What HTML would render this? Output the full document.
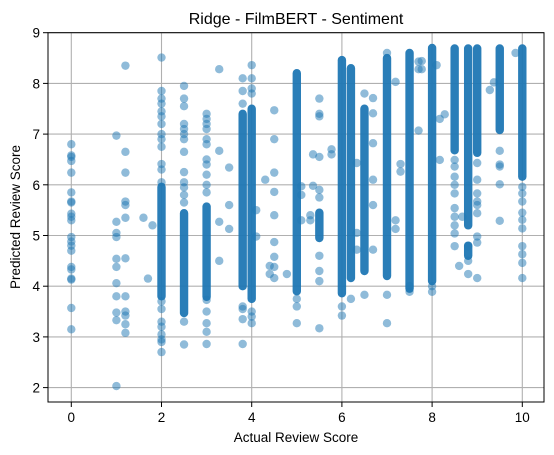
<!DOCTYPE html>
<html><head><meta charset="utf-8">
<style>
html,body{margin:0;padding:0;background:#fff;}
svg{display:block;font-family:"Liberation Sans","DejaVu Sans",sans-serif;}
</style></head>
<body>
<svg id="chart" width="554" height="455" viewBox="0 0 554 455" xmlns="http://www.w3.org/2000/svg">
<rect width="554" height="455" fill="#fff"/>
<text x="296" y="24" text-anchor="middle" font-size="16" fill="#000">Ridge - FilmBERT - Sentiment</text>
<g id="grid"></g>
<g id="marks"></g>
<rect x="48" y="32.7" width="496" height="369.3" fill="none" stroke="#000" stroke-width="1"/>
<g id="axes"></g>
<text x="296" y="442" text-anchor="middle" font-size="13.5" fill="#000">Actual Review Score</text>
<text transform="translate(20,217) rotate(-90)" text-anchor="middle" font-size="13.5" fill="#000">Predicted Review Score</text>
</svg>
<script>
const xTicks = [0, 2, 4, 6, 8, 10];
const yTicks = [2, 3, 4, 5, 6, 7, 8, 9];
// dense columns: actual score, predicted low, predicted high
const denseX  = [2, 2.5, 3, 3.8, 4, 5, 6, 6.2, 6.5, 7, 7.5, 8, 8.5, 8.8, 9, 9.5, 10, 5.5, 8.8];
const denseLo = [3.8, 3.47, 3.79, 4.0, 3.75, 3.9, 3.86, 4.16, 4.3, 4.2, 3.95, 4.1, 6.68, 5.2, 6.63, 7.08, 6.16, 4.95, 4.6];
const denseHi = [5.96, 5.44, 5.57, 7.4, 7.5, 8.2, 8.46, 8.3, 7.5, 8.5, 8.6, 8.7, 8.69, 8.69, 8.69, 8.69, 8.69, 5.45, 4.8];
// individual points
const ptX = [
 0,0,0,0,0,0,0,0,0,0,0,0,0,0,0,0,0,0,0,0,0,
 1,1,1,1,1,1,1,1,1,1,1,
 1.2,1.2,1.2,1.2,1.2,1.2,1.2,1.2,1.2,1.2,1.2,1.2,
 1.6,1.8,1.7,
 2,2,2,2,2,2,2,2,2,2,2,2,2,2,2,2,2,2,2,2,2,
 2.5,2.5,2.5,2.5,2.5,2.5,2.5,2.5,2.5,2.5,2.5,2.5,2.5,2.5,2.5,
 3,3,3,3,3,3,3,3,3,3,3,3,3,3,3,3,
 3.28,3.28,3.28,3.28,3.5,3.5,3.5,
 3.8,3.8,3.8,3.8,3.8,3.8,3.8,
 4,4,4,4,4,4,4,
 4.3,4.1,4.1,4.4,4.4,4.78,
 4.5,4.5,4.5,4.5,4.5,4.5,4.5,4.5,4.5,
 5,5,5,
 5.1,5.1,5.1,5.36,5.36,5.3,5.3,
 5.5,5.5,5.5,5.5,5.5,5.5,5.5,5.5,5.5,5.5,
 5.77,5.77,
 6,6,6.2,
 6.33,6.33,6.33,
 6.5,6.5,
 6.69,6.69,6.69,6.69,6.69,6.69,
 7,7,7,
 7.19,7.19,7.19,7.3,7.3,
 7.5,7.5,
 7.7,7.7,7.7,7.77,7.77,
 8,8,8.1,8.17,8.17,8.28,
 8.5,8.5,8.5,8.5,8.5,8.5,8.5,8.5,8.5,8.5,
 8.6,8.67,
 8.8,8.8,8.8,
 9,9,9,9,9,9,9,9,9,
 9.28,9.37,
 9.5,9.5,9.5,9.5,9.5,
 9.85,
 10,10,10,10,10,10,10,10,10,10
];
const ptY = [
 6.8,6.58,6.55,6.47,6.24,5.85,5.67,5.65,5.43,5.37,5.3,4.97,4.88,4.8,4.7,4.38,4.33,4.15,4.13,3.57,3.15,
 6.97,5.27,5.05,4.97,4.54,4.38,4.06,3.8,3.48,3.33,2.03,
 8.35,6.65,6.24,5.67,5.6,5.35,4.55,3.8,3.5,3.42,3.25,3.08,
 5.35,5.2,4.15,
 8.51,7.85,7.7,7.6,7.45,7.35,7.2,7.0,6.9,6.75,6.41,6.3,6.05,3.55,3.3,3.2,3.05,2.95,2.9,2.7,3.7,
 7.95,7.7,7.55,7.2,7.1,7.0,6.9,6.65,6.25,6.05,5.95,5.8,5.65,3.3,2.85,
 7.4,7.3,7.2,7.1,6.9,6.8,6.5,6.4,6.2,6.0,5.85,3.73,3.5,3.27,3.1,2.86,
 8.28,6.67,4.5,5.27,6.34,5.6,5.13,
 8.1,7.85,7.6,3.6,3.55,3.35,2.86,
 8.36,8.1,7.9,7.8,3.5,3.4,3.27,
 6.1,5.5,4.98,4.4,4.24,4.24,
 7.47,6.9,6.24,5.86,5.4,4.87,4.58,4.38,4.16,
 3.75,3.6,3.27,
 5.97,5.3,5.8,6.6,5.98,5.4,5.3,
 7.7,7.4,7.35,6.55,5.9,5.75,4.6,4.3,4.1,3.17,
 6.7,6.6,
 3.6,3.42,3.75,
 6.43,5.05,4.72,
 7.8,3.83,
 7.71,7.41,6.82,6.1,5.6,4.72,
 8.6,3.83,3.27,
 8.03,5.3,5.13,6.41,6.26,
 3.89,4.0,
 8.43,8.28,7.07,8.44,8.28,
 3.89,4.0,8.36,7.3,6.49,7.39,
 6.49,6.36,6.16,6.0,5.83,5.54,5.37,5.2,5.04,4.79,
 4.4,5.37,
 4.79,4.5,4.24,
 6.43,6.1,5.83,5.67,5.6,5.44,4.98,4.86,4.16,
 7.87,8.02,
 6.67,6.4,6.36,6.01,5.29,
 8.6,
 5.96,5.83,5.67,5.45,5.31,5.14,4.79,4.63,4.46,4.16
];

const X0 = 71.3, XS = 45.1, Y9 = 32.7, YS = 50.7;
function sx(v){ return X0 + v * XS; }
function sy(v){ return Y9 + (9 - v) * YS; }
const NS = 'http://www.w3.org/2000/svg';
const grid = document.getElementById('grid');
const axes = document.getElementById('axes');
const marks = document.getElementById('marks');

xTicks.forEach(t => {
  const l = document.createElementNS(NS, 'line');
  l.setAttribute('x1', sx(t)); l.setAttribute('x2', sx(t));
  l.setAttribute('y1', 32.7); l.setAttribute('y2', 402);
  l.setAttribute('stroke', '#b0b0b0'); l.setAttribute('stroke-width', '1.1');
  
  
  grid.appendChild(l);
  const tk = document.createElementNS(NS, 'line');
  tk.setAttribute('x1', sx(t)); tk.setAttribute('x2', sx(t));
  tk.setAttribute('y1', 402); tk.setAttribute('y2', 407);
  tk.setAttribute('stroke', '#000');
  
  
  axes.appendChild(tk);
  const tx = document.createElementNS(NS, 'text');
  tx.setAttribute('x', sx(t)); tx.setAttribute('y', 422);
  tx.setAttribute('text-anchor', 'middle'); tx.setAttribute('font-size', '13.5');
  tx.textContent = t;
  
  
  axes.appendChild(tx);
});
yTicks.forEach(t => {
  const l = document.createElementNS(NS, 'line');
  l.setAttribute('x1', 48); l.setAttribute('x2', 544);
  l.setAttribute('y1', sy(t)); l.setAttribute('y2', sy(t));
  l.setAttribute('stroke', '#b0b0b0'); l.setAttribute('stroke-width', '1.1');
  
  
  grid.appendChild(l);
  const tk = document.createElementNS(NS, 'line');
  tk.setAttribute('x1', 43); tk.setAttribute('x2', 48);
  tk.setAttribute('y1', sy(t)); tk.setAttribute('y2', sy(t));
  tk.setAttribute('stroke', '#000');
  
  
  axes.appendChild(tk);
  const tx = document.createElementNS(NS, 'text');
  tx.setAttribute('x', 40); tx.setAttribute('y', sy(t) + 5);
  tx.setAttribute('text-anchor', 'end'); tx.setAttribute('font-size', '13.5');
  tx.textContent = t;
  
  
  axes.appendChild(tx);
});
const R = 4.2;
denseX.forEach((x, i) => {
  const top = sy(denseHi[i]), bot = sy(denseLo[i]);
  const r = document.createElementNS(NS, 'rect');
  r.setAttribute('x', sx(x) - R); r.setAttribute('width', 2 * R);
  r.setAttribute('y', top - R); r.setAttribute('height', bot - top + 2 * R);
  r.setAttribute('rx', R); r.setAttribute('fill', '#1f77b4'); r.setAttribute('fill-opacity', '0.95');
  
  
  marks.appendChild(r);
});
ptX.forEach((x, i) => {
  const c = document.createElementNS(NS, 'circle');
  c.setAttribute('cx', sx(x)); c.setAttribute('cy', sy(ptY[i])); c.setAttribute('r', R);
  c.setAttribute('fill', '#1f77b4'); c.setAttribute('fill-opacity', '0.5');
  
  
  marks.appendChild(c);
});
</script>
</body></html>
